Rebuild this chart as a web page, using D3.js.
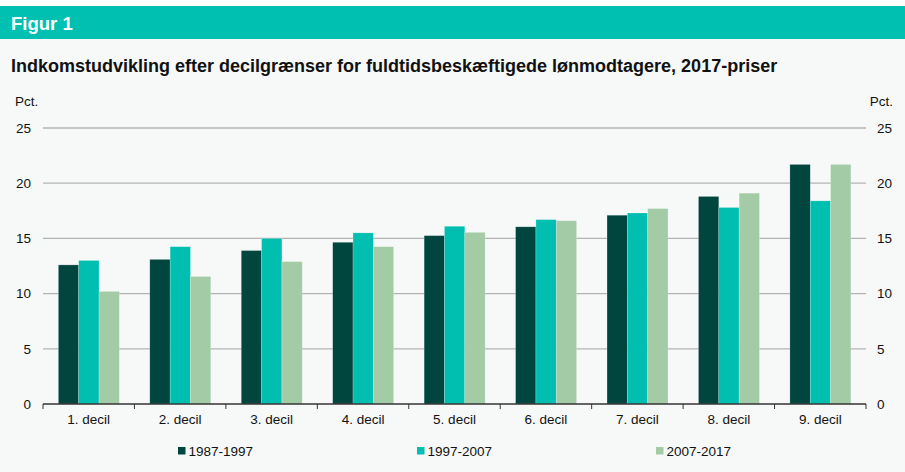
<!DOCTYPE html>
<html>
<head>
<meta charset="utf-8">
<script src="https://cdn.jsdelivr.net/npm/d3@7"></script>
<style>
   body { margin: 0; background: #ffffff; }
   svg { display: block; font-family: "Liberation Sans", Arial, sans-serif; }
</style>
</head>
<body>
<div id="chart"></div>
<script>

// data
const categories = ["1. decil", "2. decil", "3. decil", "4. decil", "5. decil", "6. decil", "7. decil", "8. decil", "9. decil"]
const seriesNames = ["1987-1997", "1997-2007", "2007-2017"]
const values8797 = [12.6, 13.1, 13.9, 14.65, 15.25, 16.05, 17.1, 18.8, 21.7]
const values9707 = [13.0, 14.25, 15.0, 15.5, 16.1, 16.7, 17.3, 17.8, 18.4]
const values0717 = [10.2, 11.55, 12.9, 14.25, 15.55, 16.6, 17.7, 19.1, 21.7]
const yTicks = [0, 5, 10, 15, 20, 25]

const colors = ["#00463f", "#00bfb0", "#a3cca6"]

let width = 905, height = 472
let margin = { top: 128, right: 39, bottom: 68, left: 43 }
let innerW = width - margin.left - margin.right
let innerH = height - margin.top - margin.bottom

let rows = categories.map(function (c, i) {
   return { cat: c, vals: [values8797[i], values9707[i], values0717[i]] }
})

let svg = d3.select("#chart").append("svg")
   .attr("width", width)
   .attr("height", height)

// background + header band
svg.append("rect").attr("x", 0).attr("y", 6).attr("width", width).attr("height", height - 6).attr("fill", "#f7f9f8")
svg.append("rect").attr("x", 0).attr("y", 6).attr("width", width).attr("height", 33).attr("fill", "#00c0b2")

svg.append("text")
   .attr("x", 11).attr("y", 29.5)
   .attr("fill", "#ffffff")
   .attr("font-size", 18.5)
   .attr("font-weight", "bold")
   .text("Figur 1")

svg.append("text")
   .attr("x", 11).attr("y", 72)
   .attr("fill", "#111")
   .attr("font-size", 18)
   .attr("font-weight", "bold")
   .text("Indkomstudvikling efter decilgrænser for fuldtidsbeskæftigede lønmodtagere, 2017-priser")

let g = svg.append("g").attr("transform", "translate(" + margin.left + "," + margin.top + ")")

let x0 = d3.scaleBand().domain(categories).range([0, innerW]).padding(0)
let bw = x0.bandwidth()
let x1 = d3.scaleBand().domain(seriesNames).range([bw * 0.168, bw * 0.835]).padding(0)
let y = d3.scaleLinear().domain([0, 25]).range([innerH, 0])

// gridlines
g.selectAll("line.grid").data(yTicks.filter(function (d) { return d > 0 }))
   .join("line")
   .attr("class", "grid")
   .attr("x1", 0).attr("x2", innerW)
   .attr("y1", function (d) { return y(d) }).attr("y2", function (d) { return y(d) })
   .attr("stroke", "#b3b3b3")
   .attr("stroke-width", 1.3)

// left + right axis labels
let leftAxis = g.append("g").call(d3.axisLeft(y).tickValues(yTicks).tickSize(0).tickPadding(12))
let rightAxis = g.append("g").attr("transform", "translate(" + innerW + ",0)")
   .call(d3.axisRight(y).tickValues(yTicks).tickSize(0).tickPadding(11))
;[leftAxis, rightAxis].forEach(function (a) {
   a.select(".domain").remove()
   a.selectAll("text").attr("font-size", 13.5).attr("fill", "#111").attr("font-family", "Liberation Sans, Arial, sans-serif")
})

svg.append("text").attr("x", 15).attr("y", 106).attr("font-size", 13.5).attr("fill", "#111").text("Pct.")
svg.append("text").attr("x", 893).attr("y", 106).attr("font-size", 13.5).attr("fill", "#111").attr("text-anchor", "end").text("Pct.")

// bars
let groups = g.selectAll("g.grp").data(rows)
   .join("g")
   .attr("class", "grp")
   .attr("transform", function (d) { return "translate(" + x0(d.cat) + ",0)" })

groups.selectAll("rect").data(function (d) { return d.vals.map(function (v, i) { return { s: seriesNames[i], v: v, i: i } }) })
   .join("rect")
   .attr("x", function (d) { return x1(d.s) })
   .attr("width", x1.bandwidth())
   .attr("y", function (d) { return y(d.v) })
   .attr("height", function (d) { return innerH - y(d.v) })
   .attr("fill", function (d) { return colors[d.i] })
   .attr("stroke", "rgba(255,255,255,0.35)")
   .attr("stroke-width", 0.6)

// x axis with ticks on the band edges
let xAxis = g.append("g").attr("transform", "translate(0," + innerH + ")")
xAxis.append("line").attr("x1", 0).attr("x2", innerW).attr("stroke", "#333").attr("stroke-width", 1.3)
xAxis.selectAll("line.tk").data(categories.concat(["end"]))
   .join("line")
   .attr("class", "tk")
   .attr("x1", function (d, i) { return i * bw }).attr("x2", function (d, i) { return i * bw })
   .attr("y1", 0).attr("y2", 5)
   .attr("stroke", "#333")
xAxis.selectAll("text").data(categories)
   .join("text")
   .attr("x", function (d) { return x0(d) + bw / 2 })
   .attr("y", 20)
   .attr("text-anchor", "middle")
   .attr("font-size", 13.5)
   .attr("fill", "#111")
   .text(function (d) { return d })

// legend
let legendX = [178, 417, 656]
let legend = svg.selectAll("g.legend").data(seriesNames)
   .join("g")
   .attr("class", "legend")
   .attr("transform", function (d, i) { return "translate(" + legendX[i] + ",447)" })
legend.append("rect").attr("width", 7.5).attr("height", 7.5).attr("fill", function (d, i) { return colors[i] })
legend.append("text").attr("x", 10.5).attr("y", 8.5).attr("font-size", 13.5).attr("fill", "#111").text(function (d) { return d })

</script>
</body>
</html>
